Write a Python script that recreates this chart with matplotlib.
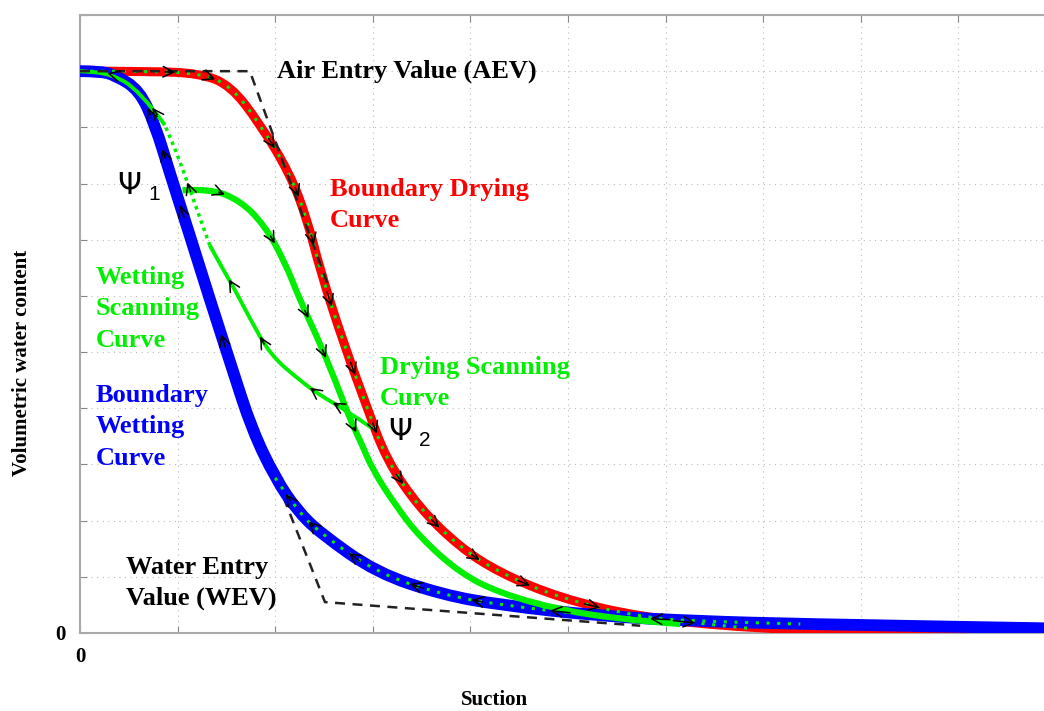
import numpy as np
import matplotlib
matplotlib.use('Agg')
import matplotlib.pyplot as plt
from matplotlib.path import Path
from matplotlib.patches import PathPatch

# ==============================================================================
#                                   DATA
# ==============================================================================
# curves (suction 0..10, water content 0..1.1)
drying_x = [0.0, 0.72, 1.23, 1.54, 1.84, 2.15, 2.33, 2.46, 2.70, 2.94, 3.14, 3.48,
            3.89, 4.30, 4.92, 5.74, 6.87, 8.40, 10.0]
drying_y = [1.0, 1.0, 0.996, 0.975, 0.907, 0.818, 0.735, 0.646, 0.516, 0.402, 0.308,
            0.222, 0.153, 0.107, 0.062, 0.028, 0.008, 0.001, 0.0]

wetting_x = [0.0, 0.20, 0.36, 0.61, 0.77, 0.92, 1.13, 1.33, 1.56, 1.76, 2.00, 2.22,
             2.46, 3.04, 3.72, 4.30, 5.33, 6.35, 7.38, 10.0]
wetting_y = [1.0, 1.0, 0.993, 0.966, 0.904, 0.819, 0.705, 0.594, 0.470, 0.363, 0.276,
             0.219, 0.178, 0.107, 0.068, 0.050, 0.030, 0.021, 0.016, 0.008]

# drying scanning curve, starting at psi_1
dscan_x = [1.05, 1.33, 1.64, 1.89, 2.10, 2.25, 2.43, 2.61, 2.77, 2.89, 3.00, 3.23,
           3.48, 3.89, 4.30, 4.92, 5.53, 6.15]
dscan_y = [0.788, 0.791, 0.770, 0.726, 0.660, 0.594, 0.527, 0.452, 0.379, 0.335, 0.290,
           0.228, 0.171, 0.107, 0.071, 0.041, 0.025, 0.016]

# wetting scanning curve, starting at psi_2
wscan_x = [2.99, 2.72, 2.46, 2.25, 1.95, 1.74, 1.59, 1.46, 1.33, 1.18, 1.02, 0.87,
           0.61, 0.31, 0.0]
wscan_y = [0.365, 0.397, 0.423, 0.450, 0.495, 0.560, 0.610, 0.649, 0.690, 0.762, 0.842,
           0.904, 0.966, 0.996, 1.0]

# AEV / WEV construction lines
aev_x = [0.0, 1.74, 2.56]
aev_y = [1.0, 1.0, 0.61]
wev_x = [2.02, 2.51, 3.89, 5.74]
wev_y = [0.270, 0.055, 0.037, 0.013]

# arrows: segment indices along each curve
drying_arrows = [1, 2, 4, 5, 6, 7, 8, 9, 10, 11, 12, 13, 14, 15]
wetting_arrows = [1, 3, 4, 5, 7, 10, 11, 12, 13, 14, 15, 16]
dscan_arrows = [1, 3, 5, 6, 8]
wscan_arrows = [1, 2, 4, 6, 9, 11]

red = '#ff0000'
blue = '#0000ff'
green = '#00ee00'

# ==============================================================================
#                                   PLOT
# ==============================================================================
plt.rcParams['font.family'] = 'Liberation Serif'
plt.rcParams['font.weight'] = 'bold'

fig = plt.figure(figsize=(10.44, 7.11), dpi=100)
ax = fig.add_axes([80 / 1044, 78 / 711, 976 / 1044, 618 / 711])

ax.set_xlim(0, 10)
ax.set_ylim(0, 1.1)
ax.set_xticks(np.arange(0, 10.01, 1))
ax.set_yticks(np.arange(0, 1.101, 0.1))
ax.set_xticklabels(['0'] + [''] * 10)
ax.set_yticklabels(['0'] + [''] * 11)
ax.tick_params(direction='in', length=5, color='#888888', labelsize=15, pad=10,
               top=True, right=True)
ax.grid(True, which='major', linestyle=(0, (1, 4)), color='#bbbbbb', lw=0.8, zorder=0)
for sp in ax.spines.values():
    sp.set_color('#aaaaaa')
    sp.set_linewidth(1.5)

fig.text(494 / 1044, 1 - 700 / 711, 'Suction', fontsize=15, fontweight='bold',
         ha='center', va='center')
fig.text(22 / 1044, 1 - 363 / 711, 'Volumetric water content', fontsize=15,
         fontweight='bold', rotation=90, ha='center', va='center')


def smooth(xs, ys, **kw):
    # quadratic bezier through segment midpoints, read points as controls
    pts = [(xs[0], ys[0])]
    codes = [Path.MOVETO]
    for i in range(1, len(xs) - 1):
        pts += [(xs[i], ys[i]), ((xs[i] + xs[i + 1]) / 2, (ys[i] + ys[i + 1]) / 2)]
        codes += [Path.CURVE3, Path.CURVE3]
    pts.append((xs[-1], ys[-1]))
    codes.append(Path.LINETO)
    ax.add_patch(PathPatch(Path(pts, codes), fill=False, capstyle='butt', **kw))


# boundary curves
smooth(drying_x, drying_y, edgecolor=red, lw=6.5, zorder=3)
smooth(wetting_x, wetting_y, edgecolor=blue, lw=8.5, zorder=4)

# scanning curves
smooth(dscan_x, dscan_y, edgecolor=green, lw=4.5, zorder=5)
smooth(wscan_x[:9], wscan_y[:9], edgecolor=green, lw=2.8, zorder=5)
smooth(wscan_x[8:12], wscan_y[8:12], edgecolor=green, lw=2.5, linestyle=(0, (1, 1.2)), zorder=5)
smooth(wscan_x[11:], wscan_y[11:], edgecolor=green, lw=2.8, zorder=5)

# green dotted traces on top of the boundary curves
smooth(drying_x[:17], drying_y[:17], edgecolor=green, lw=2.2, linestyle=(0, (1, 2.5)), zorder=6)
smooth(wetting_x[10:19], wetting_y[10:19], edgecolor=green, lw=2.2, linestyle=(0, (1, 2.5)), zorder=6)

# AEV / WEV lines
ax.plot(aev_x, aev_y, color='#222222', lw=1.8, linestyle=(0, (4, 3)), zorder=7)
ax.plot(wev_x, wev_y, color='#222222', lw=1.8, linestyle=(0, (4, 3)), zorder=2)


def add_arrows(xs, ys, idx):
    for i in idx:
        x0, y0, x1, y1 = xs[i], ys[i], xs[i + 1], ys[i + 1]
        tail = (x0 + 0.3 * (x1 - x0), y0 + 0.3 * (y1 - y0))
        tip = (x0 + 0.5 * (x1 - x0), y0 + 0.5 * (y1 - y0))
        ax.annotate('', xy=tip, xytext=tail, zorder=8,
                    arrowprops=dict(arrowstyle='->,head_length=0.75,head_width=0.38',
                                    color='black', lw=1.1, shrinkA=0, shrinkB=0))


add_arrows(drying_x, drying_y, drying_arrows)
add_arrows(wetting_x[::-1], wetting_y[::-1], [len(wetting_x) - 2 - i for i in wetting_arrows])
add_arrows(dscan_x, dscan_y, dscan_arrows)
add_arrows(wscan_x, wscan_y, wscan_arrows)


def lab(px, py, s, color):
    fig.text(px / 1044, 1 - py / 711, s, color=color, fontsize=19, fontweight='bold',
             va='center', ha='left', linespacing=1.45)


lab(277, 71, 'Air Entry Value (AEV)', 'black')
lab(330, 205, 'Boundary Drying\nCurve', red)
lab(96, 309, 'Wetting\nScanning\nCurve', green)
lab(380, 383, 'Drying Scanning\nCurve', green)
lab(96, 427, 'Boundary\nWetting\nCurve', blue)
lab(126, 583, 'Water Entry\nValue (WEV)', 'black')

for px, py, sub in [(117, 186, '1'), (388, 432, '2')]:
    fig.text(px / 1044, 1 - py / 711, 'Ψ', fontsize=22, family='DejaVu Sans',
             fontweight='normal', va='center', ha='left')
    fig.text((px + 31) / 1044, 1 - (py + 9) / 711, sub, fontsize=15,
             family='Liberation Sans', fontweight='normal', va='center', ha='left')

plt.savefig('out.png', dpi=100)
